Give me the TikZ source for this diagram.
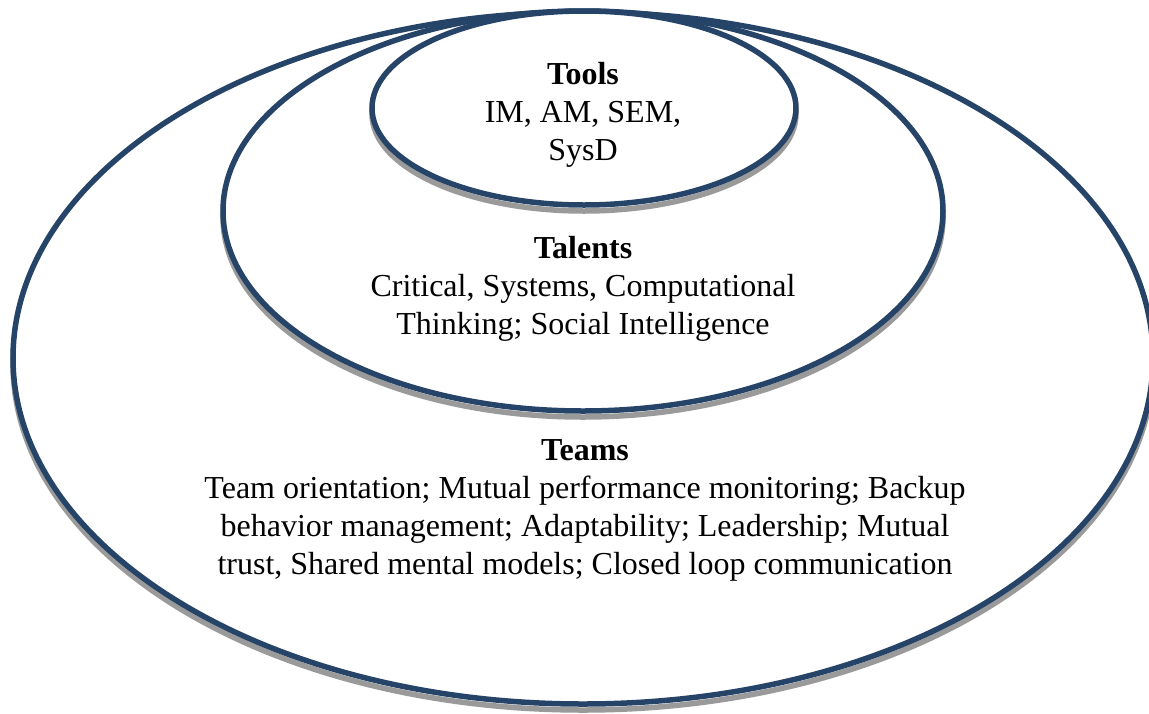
\documentclass[tikz,border=0pt]{standalone}
\usepackage{fontspec}
\setmainfont{Liberation Serif}
\usetikzlibrary{shapes.geometric}
\definecolor{ringblue}{HTML}{264468}
\definecolor{shadowgray}{HTML}{9A9A9A}
\tikzset{
  ringshadow/.style={ellipse, draw=shadowgray, line width=5.5pt, inner sep=0pt, yshift=-6pt},
  ring/.style={ellipse, draw=ringblue, line width=5.5pt, fill=white, inner sep=0pt},
  label/.style={align=center, font=\fontsize{32}{38}\selectfont, inner sep=0pt}
}
\begin{document}
\begin{tikzpicture}[x=1pt,y=-1pt]
\useasboundingbox (0,0) rectangle (1149,713);
\node[ringshadow, minimum width=1140pt, minimum height=692pt] (teamsshadow) at (583,358) {};
\node[ring, minimum width=1140pt, minimum height=692pt] (teams) at (583,358) {};
\node[ringshadow, minimum width=720pt, minimum height=400pt] (talentsshadow) at (583,211) {};
\node[ring, minimum width=720pt, minimum height=400pt] (talents) at (583,211) {};
\node[ringshadow, minimum width=424pt, minimum height=194pt] (toolsshadow) at (584,108) {};
\node[ring, minimum width=424pt, minimum height=194pt] (tools) at (584,108) {};
\node[label] (toolstxt) at (583,115) {\textbf{Tools}\\IM, AM, SEM,\\SysD};
\node[label] (talentstxt) at (583,289) {\textbf{Talents}\\Critical, Systems, Computational\\Thinking; Social Intelligence};
\node[label] (teamstxt) at (585,510) {\textbf{Teams}\\Team orientation; Mutual performance monitoring; Backup\\behavior management; Adaptability; Leadership; Mutual\\trust, Shared mental models; Closed loop communication};
\end{tikzpicture}
\end{document}
